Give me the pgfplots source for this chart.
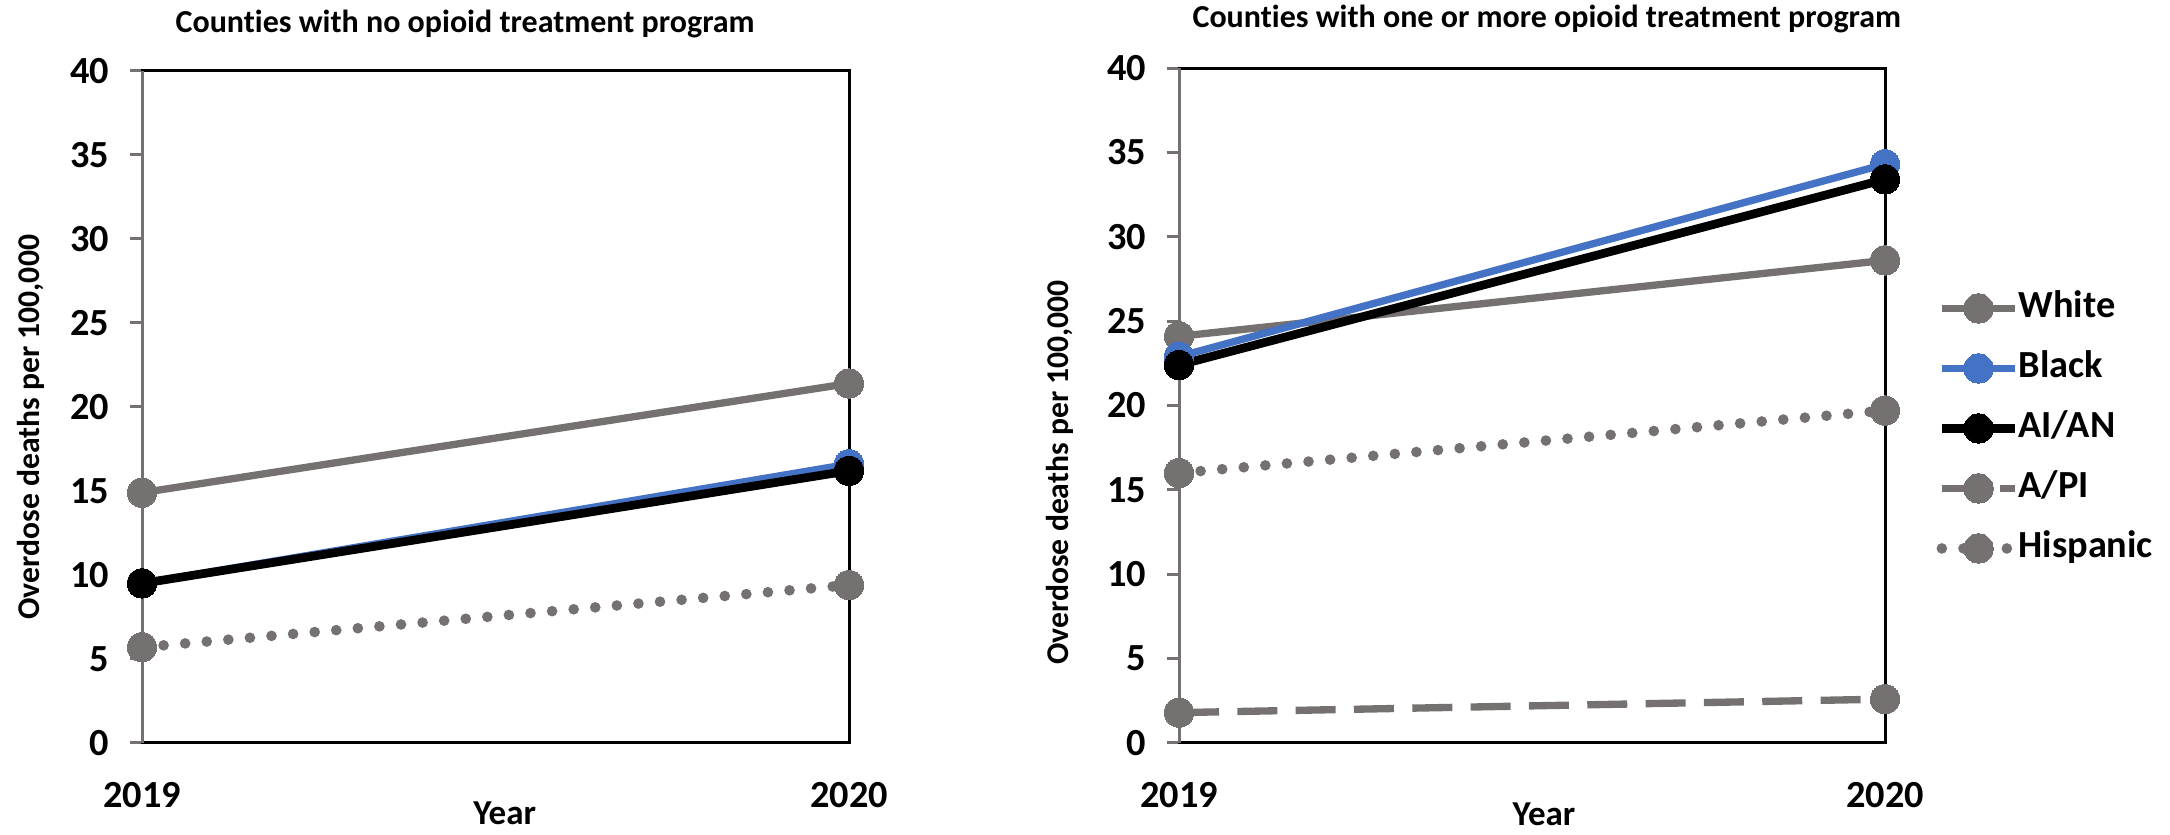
\documentclass[border=0pt]{standalone}
\usepackage{pgfplots}
\pgfplotsset{compat=1.18}
\usepackage{fontspec}
\setmainfont{Carlito}[Ligatures=NoCommon]
\definecolor{cgray}{RGB}{118,113,113}
\definecolor{cblue}{RGB}{68,114,196}
\tikzset{ttl/.style={font=\bfseries\fontsize{9.6}{9.6}\selectfont, anchor=center, inner sep=0pt}}
\pgfplotsset{
  mystyle/.style={
    scale only axis,
    xmin=2019, xmax=2020, ymin=0, ymax=40,
    xtick={2019,2020}, xticklabels={2019,2020},
    ytick={0,5,...,40},
    ytick pos=left,
    tick align=outside,
    major tick length=3.6pt,
    x tick style={draw=none},
    y tick style={cgray, line width=0.9pt},
    axis line style={black, line width=0.9pt},
    tick label style={font=\bfseries\fontsize{11.5}{11.5}\selectfont},
    /pgf/number format/assume math mode=true,
    yticklabel style={inner sep=0pt, xshift=-6pt},
    xticklabel style={inner sep=0pt, yshift=-8pt},
    clip=false,
    ylabel={Overdose deaths per 100,000},
    xlabel={Year},
    xlabel style={anchor=center, yshift=0pt, font=\bfseries\fontsize{10.5}{10.5}\selectfont},
    ylabel style={anchor=center, font=\bfseries\fontsize{9.5}{9.5}\selectfont},
    legend image code/.code={\draw[mark repeat=2,mark phase=2,#1] plot coordinates {(0pt,0pt) (11pt,0pt) (22pt,0pt)};},
  },
  sWhite/.style={cgray, line width=2.2pt, line join=round, mark=*, mark size=4.4pt, mark options={solid, fill=cgray, draw=cgray, line width=0pt}},
  sBlack/.style={cblue, line width=2.2pt, line join=round, mark=*, mark size=4.4pt, mark options={solid, fill=cblue, draw=cblue, line width=0pt}},
  sAIAN/.style={black, line width=2.6pt, line join=round, mark=*, mark size=4.4pt, mark options={solid, fill=black, draw=black, line width=0pt}},
  sAPI/.style={cgray, line width=2.2pt, dash pattern=on 12pt off 5.5pt, mark=*, mark size=4.4pt, mark options={solid, fill=cgray, draw=cgray, line width=0pt}},
  sHisp/.style={cgray, line width=3.2pt, line cap=round, dash pattern=on 0pt off 6.5pt, mark=*, mark size=4.4pt, mark options={solid, fill=cgray, draw=cgray, line width=0pt}},
}
\begin{document}
\begin{tikzpicture}
\useasboundingbox (0,0) rectangle (651pt,-250.5pt);
% Left panel
\begin{axis}[mystyle,
  at={(42.6pt,-222.9pt)}, anchor=south west,
  width=212.1pt, height=201.6pt,
  ylabel style={at={(rel axis cs:-0.157,0.47)}},
  xlabel style={at={(rel axis cs:0.513,-0.105)}},
]
\draw[cgray, line width=0.9pt] (rel axis cs:0,0) -- (rel axis cs:0,1);
\node[ttl] at (rel axis cs:0.457,1.07) {Counties with no opioid treatment program};
\addplot[sWhite] coordinates {(2019,14.9) (2020,21.4)};
\addplot[sBlack] coordinates {(2019,9.5) (2020,16.6)};
\addplot[sAIAN] coordinates {(2019,9.5) (2020,16.2)};
\addplot[sHisp] coordinates {(2019,5.7) (2020,9.4)};
\end{axis}
% Right panel
\begin{axis}[mystyle,
  at={(353.7pt,-222.9pt)}, anchor=south west,
  width=211.8pt, height=202.5pt,
  ylabel style={at={(rel axis cs:-0.169,0.401)}},
  xlabel style={at={(rel axis cs:0.517,-0.105)}},
  legend style={at={(rel axis cs:1.072,0.466)}, anchor=west, draw=none, fill=none, inner sep=0pt, row sep=8.5pt,
    nodes={inner sep=0pt, text height=7.5pt, text depth=2pt},
    font=\bfseries\fontsize{11.5}{11.5}\selectfont,
    /tikz/every odd column/.append style={column sep=-0.6pt}},
  legend cell align=left,
]
\draw[cgray, line width=0.9pt] (rel axis cs:0,0) -- (rel axis cs:0,1);
\node[ttl] at (rel axis cs:0.521,1.073) {Counties with one or more opioid treatment program};
\addplot[sWhite] coordinates {(2019,24.1) (2020,28.6)};
\addplot[sBlack] coordinates {(2019,22.9) (2020,34.3)};
\addplot[sAIAN] coordinates {(2019,22.4) (2020,33.4)};
\addplot[sAPI] coordinates {(2019,1.8) (2020,2.6)};
\addplot[sHisp] coordinates {(2019,16.0) (2020,19.7)};
\legend{White,Black,AI/AN,A/PI,Hispanic}
\end{axis}
\end{tikzpicture}
\end{document}
